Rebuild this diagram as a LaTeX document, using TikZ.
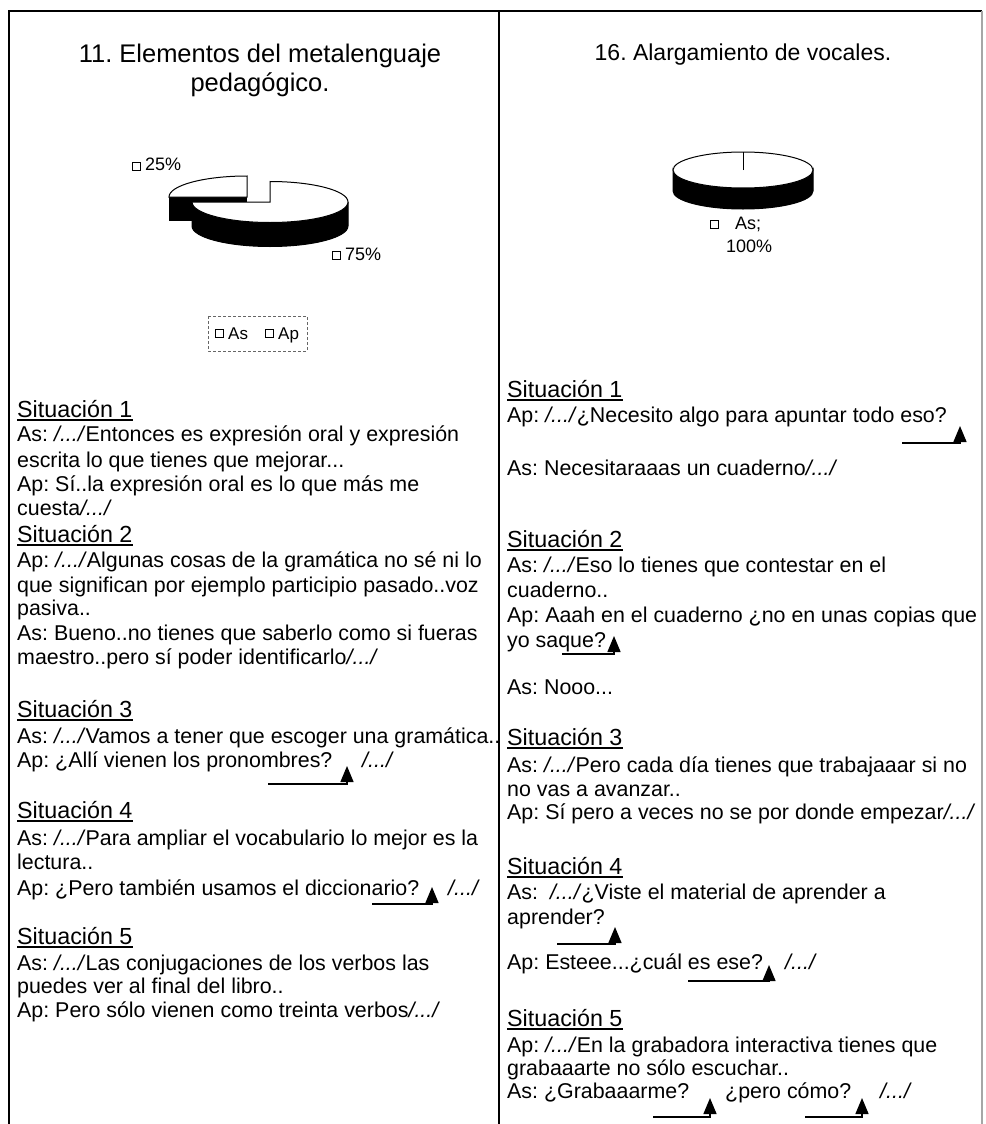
\documentclass[tikz,border=0pt]{standalone}
\usepackage{fontspec}
\setmainfont{Liberation Sans}
\usetikzlibrary{arrows.meta}
\newcommand{\cort}{\textit{/.../}}

\begin{document}
\frenchspacing
\begin{tikzpicture}[x=1pt,y=-1pt,
			frm/.style={draw=black,line width=1.2pt},
			ttl/.style={anchor=base,inner sep=0pt,font=\fontsize{25.5}{29}\selectfont},
			ttr/.style={anchor=base,inner sep=0pt,font=\fontsize{23}{27}\selectfont},
			sit/.style={anchor=base west,inner sep=0pt,font=\fontsize{23.3}{27}\selectfont},
			ln/.style={anchor=base west,inner sep=0pt,font=\fontsize{21.4}{25}\selectfont},
			lab/.style={anchor=base west,inner sep=0pt,font=\fontsize{18}{21}\selectfont},
			sq/.style={draw=black,line width=0.9pt,minimum size=8pt,inner sep=0pt},
			ul/.style={draw=black,line width=1.2pt},
			mk/.style={-{Triangle[length=16pt,width=13pt]},draw=black,line width=1.4pt},
			ptop/.style={fill=white,draw=black,line width=1pt},
			pside/.style={fill=black,draw=black,line width=1pt}]
			\useasboundingbox (0,0) rectangle (985,1124);
			%% frame
			\draw[frm] (9,1124) -- (9,11) -- (982,11);
			\draw[frm] (499,11) -- (499,1124);
			\draw[frm,draw=black!35] (982,11) -- (982,1124);
			%% left chart
			\node[ttl] (tl1) at (260,63) {11. Elementos del metalenguaje};
			\node[ttl] (tl2) at (260,92) {pedagógico.};
			\fill[black] (169,197) rectangle (247,221);
			\draw[ptop] (247,197) -- (169,197) arc[start angle=180,end angle=270,x radius=78,y radius=21] -- cycle;
			\draw[pside] (348,202) arc[start angle=0,end angle=180,x radius=78,y radius=20.5] -- (192,226) arc[start angle=180,end angle=0,x radius=78,y radius=20.5] -- cycle;
			\draw[ptop] (270,202) -- (270,181.5) arc[start angle=-90,end angle=180,x radius=78,y radius=20.5] -- cycle;
			\node[sq] (q25) at (136,166) {};
			\node[lab] (p25) at (145,170) {25\%};
			\node[sq] (q75) at (336,255.5) {};
			\node[lab] (p75) at (345,260) {75\%};
			%% legend
			\draw[draw=black!60,line width=0.7pt,densely dashed] (208,316) rectangle (307,351);
			\node[sq] (qas) at (219,333) {};
			\node[lab,font=\fontsize{17}{20}\selectfont] (las) at (228,339) {As};
			\node[sq] (qap) at (269,333) {};
			\node[lab,font=\fontsize{17}{20}\selectfont] (lap) at (278,339) {Ap};
			%% left situations
			\node[sit] (ls1) at (17,417) {Situación 1};
			\node[ln] (ls1a) at (17,441) {As: \cort Entonces es expresión oral y expresión};
			\node[ln] (ls1b) at (17,467) {escrita lo que tienes que mejorar...};
			\node[ln] (ls1c) at (17,491) {Ap: Sí..la expresión oral es lo que más me};
			\node[ln] (ls1d) at (17,515) {cuesta\cort};
			\node[sit] (ls2) at (17,542) {Situación 2};
			\node[ln] (ls2a) at (17,567) {Ap: \cort Algunas cosas de la gramática no sé ni lo};
			\node[ln] (ls2b) at (17,592) {que significan por ejemplo participio pasado..voz};
			\node[ln] (ls2c) at (17,615) {pasiva..};
			\node[ln] (ls2d) at (17,640) {As: Bueno..no tienes que saberlo como si fueras};
			\node[ln] (ls2e) at (17,664) {maestro..pero sí poder identificarlo\cort};
			\node[sit] (ls3) at (17,717) {Situación 3};
			\node[ln] (ls3a) at (17,743) {As: \cort Vamos a tener que escoger una gramática..};
			\node[ln] (ls3b) at (17,767) {Ap: ¿Allí vienen los pronombres?};
			\node[ln] (ls3c) at (362,767) {\cort};
			\node[sit] (ls4) at (17,818) {Situación 4};
			\node[ln] (ls4a) at (17,845) {As: \cort Para ampliar el vocabulario lo mejor es la};
			\node[ln] (ls4b) at (17,869) {lectura..};
			\node[ln] (ls4c) at (17,895) {Ap: ¿Pero también usamos el diccionario?};
			\node[ln] (ls4d) at (448,895) {\cort};
			\node[sit] (ls5) at (17,944) {Situación 5};
			\node[ln] (ls5a) at (17,970) {As: \cort Las conjugaciones de los verbos las};
			\node[ln] (ls5b) at (17,993) {puedes ver al final del libro..};
			\node[ln] (ls5c) at (17,1017) {Ap: Pero sólo vienen como treinta verbos\cort};
			%% right chart
			\node[ttr] (tr1) at (743,60) {16. Alargamiento de vocales.};
			\draw[pside] (813,170) arc[start angle=0,end angle=180,x radius=70,y radius=18] -- (673,191) arc[start angle=180,end angle=0,x radius=70,y radius=18] -- cycle;
			\draw[ptop] (743,170) ellipse[x radius=70,y radius=18];
			\draw[line width=1pt] (743,170) -- (743,152);
			\node[sq] (q100) at (714.5,224) {};
			\node[lab] (pas) at (735,229) {As;};
			\node[lab] (p100) at (726,252) {100\%};
			%% right situations
			\node[sit] (rs1) at (507,397) {Situación 1};
			\node[ln] (rs1a) at (507,422) {Ap: \cort¿Necesito algo para apuntar todo eso?};
			\node[ln] (rs1b) at (507,475) {As: Necesitaraaas un cuaderno\cort};
			\node[sit] (rs2) at (507,547) {Situación 2};
			\node[ln] (rs2a) at (507,572) {As: \cort Eso lo tienes que contestar en el};
			\node[ln] (rs2b) at (507,597) {cuaderno..};
			\node[ln] (rs2c) at (507,622) {Ap: Aaah en el cuaderno ¿no en unas copias que};
			\node[ln] (rs2d) at (507,647) {yo saque?};
			\node[ln] (rs2e) at (507,694) {As: Nooo...};
			\node[sit] (rs3) at (507,745) {Situación 3};
			\node[ln] (rs3a) at (507,772) {As: \cort Pero cada día tienes que trabajaaar si no};
			\node[ln] (rs3b) at (507,796) {no vas a avanzar..};
			\node[ln] (rs3c) at (507,819) {Ap: Sí pero a veces no se por donde empezar\cort};
			\node[sit] (rs4) at (507,874) {Situación 4};
			\node[ln] (rs4a) at (507,899) {As: \ \cort¿Viste el material de aprender a};
			\node[ln] (rs4b) at (507,924) {aprender?};
			\node[ln] (rs4c) at (507,969) {Ap: Esteee...¿cuál es ese?};
			\node[ln] (rs4d) at (785,969) {\cort};
			\node[sit] (rs5) at (507,1026) {Situación 5};
			\node[ln] (rs5a) at (507,1052) {Ap: \cort En la grabadora interactiva tienes que};
			\node[ln] (rs5b) at (507,1075) {grabaaarte no sólo escuchar..};
			\node[ln] (rs5c) at (507,1098) {As: ¿Grabaaarme?};
			\node[ln] (rs5d) at (725,1098) {¿pero cómo?};
			\node[ln] (rs5e) at (880,1098) {\cort};
			%% underlines
			\foreach \s in {ls1,ls2,ls3,ls4,ls5,rs1,rs2,rs3,rs4,rs5}
				\draw[ul] ([yshift=-3pt]\s.base west) -- ([yshift=-3pt]\s.base east);
			%% rising marks
			\coordinate (m1a) at (268,784);  \coordinate (m1b) at (347,766);
			\coordinate (m2a) at (372,904);  \coordinate (m2b) at (432,887);
			\coordinate (m3a) at (902,443);  \coordinate (m3b) at (960,426);
			\coordinate (m4a) at (562,654);  \coordinate (m4b) at (614,636);
			\coordinate (m5a) at (557,944);  \coordinate (m5b) at (615,927);
			\coordinate (m6a) at (688,981);  \coordinate (m6b) at (769,965);
			\coordinate (m7a) at (653,1117); \coordinate (m7b) at (710,1098);
			\coordinate (m8a) at (805,1117); \coordinate (m8b) at (862,1098);
			\foreach \m in {1,...,8} \draw[mk] (m\m a) -| (m\m b);
		\end{tikzpicture}
\end{document}
